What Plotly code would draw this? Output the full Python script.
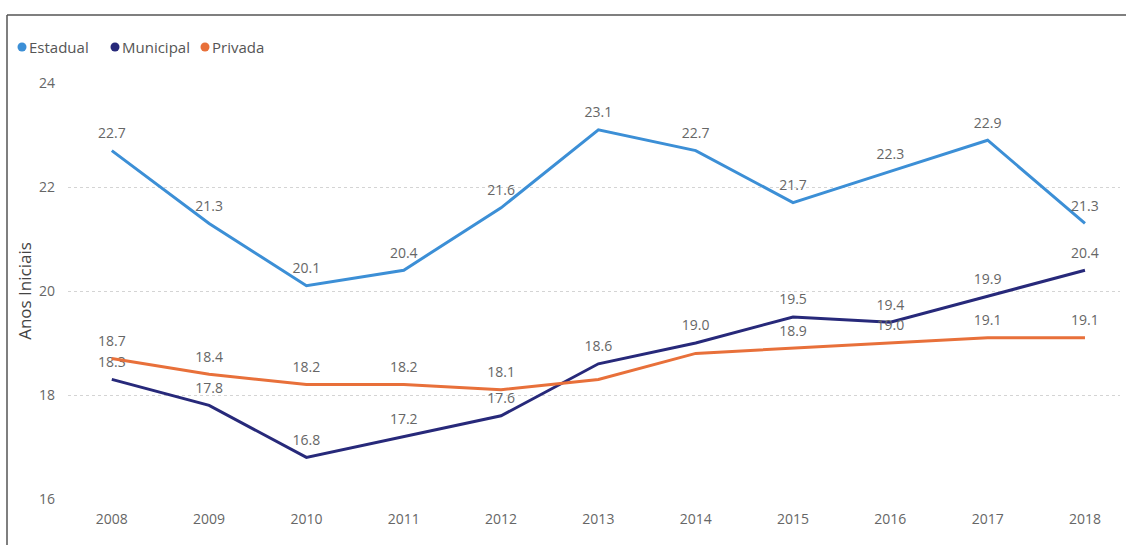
import plotly.graph_objects as go

# Anos Iniciais by school network, 2008-2018
years = [2008, 2009, 2010, 2011, 2012, 2013, 2014, 2015, 2016, 2017, 2018]
estadual = [22.7, 21.3, 20.1, 20.4, 21.6, 23.1, 22.7, 21.7, 22.3, 22.9, 21.3]
municipal = [18.3, 17.8, 16.8, 17.2, 17.6, 18.6, 19.0, 19.5, 19.4, 19.9, 20.4]
privada = [18.7, 18.4, 18.2, 18.2, 18.1, 18.3, 18.8, 18.9, 19.0, 19.1, 19.1]
# labels suppressed where they would collide with another series
privada_hidden = [2013, 2014]

y_ticks = [16, 18, 20, 22, 24]

series = [
    ("Estadual", estadual, "#3C8FD6", []),
    ("Municipal", municipal, "#27297A", []),
    ("Privada", privada, "#E8703A", privada_hidden),
]

W, H = 1126, 545
L, R, T, B = 68, 6, 83, 46

# pixel -> paper coordinate helpers
px = lambda x: (x - L) / (W - L - R)
py = lambda y: (H - B - y) / (H - T - B)

fig = go.Figure()
for name, vals, color, hidden in series:
    labels = ["" if x in hidden else f"{v:.1f}" for x, v in zip(years, vals)]
    fig.add_trace(go.Scatter(
        x=years, y=vals, name=name, mode="lines+markers+text",
        line=dict(color=color, width=3),
        marker=dict(size=13, opacity=0, color=color),
        text=labels, textposition="top center",
        textfont=dict(family="Open Sans", size=14, color="#666666"),
        cliponaxis=False, showlegend=False,
    ))

# legend drawn as dot + name pairs along the top-left
legend_dot_x = [22, 115, 205]
annotations = []
shapes = []
for (name, _, color, _), dx in zip(series, legend_dot_x):
    shapes.append(dict(
        type="circle", xref="paper", yref="paper",
        x0=px(dx - 4.5), x1=px(dx + 4.5), y0=py(47 - 4.5), y1=py(47 + 4.5),
        fillcolor=color, line=dict(width=0),
    ))
    annotations.append(dict(
        xref="paper", yref="paper",
        x=px(dx + 5), y=py(47),
        xanchor="left", yanchor="middle", showarrow=False,
        text=name, font=dict(family="Open Sans", size=15, color="#555555"),
    ))

# frame around the visual: top and left edges
shapes.append(dict(type="line", xref="paper", yref="paper",
                   x0=px(7), x1=px(W + 5), y0=py(15), y1=py(15),
                   line=dict(color="#555555", width=1.5)))
shapes.append(dict(type="line", xref="paper", yref="paper",
                   x0=px(7), x1=px(7), y0=py(15), y1=py(H + 5),
                   line=dict(color="#555555", width=1.5)))

fig.update_layout(
    width=W, height=H,
    margin=dict(l=L, r=R, t=T, b=B, autoexpand=False),
    paper_bgcolor="white", plot_bgcolor="white",
    font=dict(family="Open Sans", color="#666666"),
    showlegend=False,
    annotations=annotations,
    shapes=shapes,
    xaxis=dict(
        range=[2007.55, 2018.36], tickmode="array", tickvals=years,
        ticktext=[str(y) for y in years], showgrid=False, zeroline=False,
        showline=False, tickfont=dict(size=14, color="#666666"),
        ticklabelstandoff=10,
    ),
    yaxis=dict(
        range=[16, 24], tickmode="array", tickvals=y_ticks,
        ticktext=[str(v) for v in y_ticks],
        showgrid=True, gridcolor="#d4d4d4", griddash="dot", gridwidth=1,
        zeroline=False, showline=False,
        tickfont=dict(size=14, color="#666666"), ticklabelstandoff=12,
        title=dict(text="Anos Iniciais", font=dict(size=17, color="#444444"),
                   standoff=3),
    ),
)

fig.write_html("out.html")
